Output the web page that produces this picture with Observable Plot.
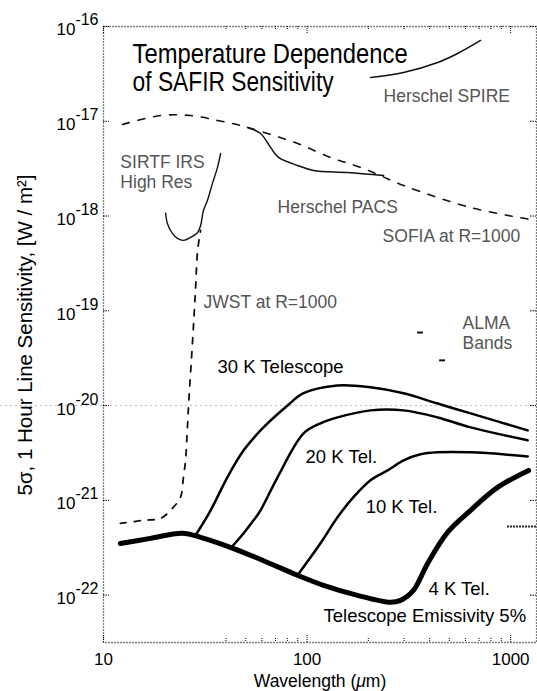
<!DOCTYPE html>
<html><head><meta charset="utf-8">
<script src="https://cdn.jsdelivr.net/npm/d3@7"></script>
<script src="https://cdn.jsdelivr.net/npm/@observablehq/plot@0.6"></script>
<style>body{margin:0;background:#fff;} svg{display:block}</style>
</head><body><div id="chart"></div>
<script>
// wavelength (µm), 5-sigma 1-hour line sensitivity (W/m^2)
const tel4K = [[12.1,3.5e-22],[17.0,3.97e-22],[24.4,4.5e-22],[30.0,4.07e-22],[43.6,3.1e-22],[60.4,2.33e-22],[89.8,1.62e-22],[120.5,1.27e-22],[177,9.95e-23],[257,8.4e-23],[288,8.8e-23],[333,1.12e-22],[391,2.16e-22],[490,4.6e-22],[636,7.85e-22],[863,1.37e-21],[1225,2.07e-21]];
const tel10K = [[89.8,1.62e-22],[116.4,3.52e-22],[141.1,6.62e-22],[169,1.08e-21],[205,1.63e-21],[248.6,2.07e-21],[298,2.64e-21],[361,3.06e-21],[438,3.21e-21],[636,3.21e-21],[1213,2.91e-21]];
const tel20K = [[42.1,3.12e-22],[48.8,4.5e-22],[54.6,6.15e-22],[59.1,7.85e-22],[71.6,1.75e-21],[96.1,5.09e-21],[116.4,6.5e-21],[141.1,7.5e-21],[205,8.9e-21],[298,8.9e-21],[438,7.5e-21],[636,5.89e-21],[1213,4.3e-21]];
const tel30K = [[28.3,4.27e-22],[33.6,7.85e-22],[40.6,1.75e-21],[48.8,3.37e-21],[59.1,5.47e-21],[80.2,1.0e-20],[96.1,1.35e-20],[141.1,1.63e-20],[205,1.56e-20],[298,1.35e-20],[438,1.05e-20],[636,8.27e-21],[1213,5.47e-21]];
const jwst = [[12.1,5.72e-22],[15.7,6.15e-22],[19.1,6.46e-22],[21.8,8.24e-22],[23.9,1.08e-21],[24.7,1.75e-21],[25.3,2.64e-21],[25.6,3.99e-21],[25.9,6.49e-21],[26.2,1.05e-20],[27.4,4.87e-20],[28.3,1.64e-19],[29.0,4.34e-19],[30.0,7.05e-19]];
const sirtf = [[20.2,1.07e-18],[20.6,8.36e-19],[21.8,6.55e-19],[23.1,5.8e-19],[24.7,5.53e-19],[26.8,5.95e-19],[29.0,6.71e-19],[30.0,7.96e-19],[31.0,1.15e-18],[32.4,1.46e-18],[34.3,2.21e-18],[36.3,3.26e-18],[37.6,4.57e-18]];
const sofia = [[12.4,9.25e-18],[19.1,1.15e-17],[26.8,1.15e-17],[36.3,1.02e-17],[47.1,9.03e-18],[63.9,7.43e-18],[89.8,5.83e-18],[130.4,4.15e-18],[189.5,3.18e-18],[298,2.1e-18],[636,1.23e-18],[1327,9.0e-19]];
const pacs = [[51.0,8.6e-18],[59.1,7.43e-18],[66.2,5.3e-18],[72.4,4.15e-18],[89.8,3.42e-18],[107.6,3.03e-18],[158,2.88e-18],[237.7,2.68e-18]];
const spire = [[205,2.9e-17],[298,3.27e-17],[438,4.17e-17],[549,5.19e-17],[712,7.12e-17]];
const almaMarks = [[349,373,5.9e-20],[448,479,3.0e-20]];
const almaBand = [[966,1340,5.3e-22]];

const titleLines = [
  {text: "Temperature Dependence", x: 13.9, y: 4.07e-17},
  {text: "of SAFIR Sensitivity", x: 13.9, y: 2.11e-17}
];
const instrumentLabels = [
  {text: "SIRTF IRS\nHigh Res", x: 12.1, y: 2.0e-18},
  {text: "Herschel SPIRE", x: 237.7, y: 1.58e-17},
  {text: "Herschel PACS", x: 71.6, y: 1.07e-18},
  {text: "SOFIA at R=1000", x: 235, y: 5.27e-19},
  {text: "JWST at R=1000", x: 31.0, y: 1.06e-19},
  {text: "ALMA\nBands", x: 581, y: 4.0e-20}
];
const curveLabels = [
  {text: "30 K Telescope", x: 36.3, y: 2.19e-20},
  {text: "20 K Tel.", x: 98.3, y: 2.45e-21},
  {text: "10 K Tel.", x: 194, y: 7.3e-22},
  {text: "4 K Tel.", x: 395, y: 9.95e-23},
  {text: "Telescope Emissivity 5%", x: 120.5, y: 5.16e-23}
];
const yTicks = [1e-22,1e-21,1e-20,1e-19,1e-18,1e-17,1e-16];
const xTicks = [10,100,1000];
const xMinor = [40,50,60,70,80,90,200,300,400,500,600,700,800,900];
const xLabel = "Wavelength (μm)";
const yLabel = "5σ, 1 Hour Line Sensitivity, [W / m²]";

const W = 537, H = 691, mL = 103, mR = 1, mT = 26, mB = 49;
const innerW = W - mL - mR, innerH = H - mT - mB;
const font = "'Liberation Sans', Arial, Helvetica, sans-serif";
const X = d => d[0], Y = d => d[1];

const chart = Plot.plot({
  width: W, height: H,
  marginLeft: mL, marginRight: mR, marginTop: mT, marginBottom: mB,
  style: {fontFamily: font, background: "#fff", color: "#000"},
  x: {type: "log", domain: [10, 1340], label: null},
  y: {type: "log", domain: [Math.pow(10, -22.5), 1e-16], label: null},
  marks: [
    Plot.ruleY([1e-20], {stroke: "#aaa", strokeWidth: 0.8, strokeDasharray: "2,3", insetLeft: -mL}),
    Plot.frame({stroke: "#000", strokeWidth: 1.3, strokeDasharray: "1,2"}),
    Plot.tickY(yTicks, {y: d => d, insetRight: innerW - 6, stroke: "#000", strokeDasharray: "1.5,1"}),
    Plot.tickY(yTicks, {y: d => d, insetLeft: innerW - 6, stroke: "#000", strokeDasharray: "1.5,1"}),
    Plot.tickX(xMinor, {x: d => d, insetTop: innerH - 4, stroke: "#000", strokeDasharray: "1,1"}),
    Plot.tickX(xTicks, {x: d => d, insetTop: innerH - 7, stroke: "#000", strokeDasharray: "1,1"}),
    Plot.tickX(xMinor, {x: d => d, insetBottom: innerH - 4, stroke: "#000", strokeDasharray: "1,1"}),
    Plot.tickX(xTicks, {x: d => d, insetBottom: innerH - 7, stroke: "#000", strokeDasharray: "1,1"}),
    Plot.axisY({ticks: yTicks, tickSize: 0, tickPadding: 5, fontSize: 17, dy: 3.5, label: null,
      tickFormat: d => "10^" + Math.round(Math.log10(d))}),
    Plot.axisX({ticks: xTicks, tickSize: 0, tickPadding: 10, fontSize: 17, label: null,
      tickFormat: d => String(d)}),
    // curves
    Plot.line(sofia, {x: X, y: Y, stroke: "#111", strokeWidth: 1.6, strokeDasharray: "7,9", curve: "catmull-rom"}),
    Plot.line(pacs, {x: X, y: Y, stroke: "#111", strokeWidth: 1.5, curve: "catmull-rom"}),
    Plot.line(spire, {x: X, y: Y, stroke: "#111", strokeWidth: 1.5, curve: "catmull-rom"}),
    Plot.line(sirtf, {x: X, y: Y, stroke: "#111", strokeWidth: 1.4, curve: "catmull-rom"}),
    Plot.line(jwst, {x: X, y: Y, stroke: "#111", strokeWidth: 1.8, strokeDasharray: "6,8", curve: "catmull-rom"}),
    Plot.line(tel30K, {x: X, y: Y, stroke: "#000", strokeWidth: 2.5, curve: "catmull-rom"}),
    Plot.line(tel20K, {x: X, y: Y, stroke: "#000", strokeWidth: 2.5, curve: "catmull-rom"}),
    Plot.line(tel10K, {x: X, y: Y, stroke: "#000", strokeWidth: 2.5, curve: "catmull-rom"}),
    Plot.line(tel4K, {x: X, y: Y, stroke: "#000", strokeWidth: 5, curve: "catmull-rom"}),
    Plot.ruleY(almaMarks, {y: d => d[2], x1: d => d[0], x2: d => d[1], stroke: "#111", strokeWidth: 2}),
    Plot.ruleY(almaBand, {y: d => d[2], x1: d => d[0], x2: d => d[1], stroke: "#222", strokeWidth: 2, strokeDasharray: "2,1"}),
    // labels
    Plot.text(titleLines, {x: "x", y: "y", text: "text", textAnchor: "start", lineAnchor: "bottom", fontSize: 27, fill: "#000"}),
    Plot.text(instrumentLabels, {x: "x", y: "y", text: "text", textAnchor: "start", lineAnchor: "bottom", fontSize: 17.5, lineHeight: 20/17.5, fill: "#555"}),
    Plot.text(curveLabels, {x: "x", y: "y", text: "text", textAnchor: "start", lineAnchor: "bottom", fontSize: 18.5, fill: "#000"}),
    Plot.text([xLabel], {frameAnchor: "bottom", text: d => d, dy: 44, lineAnchor: "bottom", fontSize: 17.5, fill: "#000"}),
    Plot.text([yLabel], {frameAnchor: "left", text: d => d, rotate: -90, lineAnchor: "middle", fontSize: 20.5, fill: "#000"})
  ]
});
document.getElementById("chart").appendChild(chart);

const svg = chart.tagName.toLowerCase() === "svg" ? chart : chart.querySelector("svg");
svg.querySelectorAll('g[aria-label="y-axis tick label"] text').forEach(t => {
  const parts = t.textContent.split("^");
  if (parts.length === 2) {
    t.innerHTML = `<tspan>${parts[0]}</tspan><tspan dy="-10" font-size="16">${parts[1]}</tspan>`;
  }
});
svg.querySelectorAll("text").forEach(t => {
  const s = t.textContent;
  if (s === titleLines[0].text) { t.setAttribute("textLength", 275); t.setAttribute("lengthAdjust", "spacingAndGlyphs"); }
  if (s === titleLines[1].text) { t.setAttribute("textLength", 201); t.setAttribute("lengthAdjust", "spacingAndGlyphs"); }
  if (s === xLabel) { t.innerHTML = 'Wavelength (<tspan font-style="italic">μ</tspan>m)'; }
  if (s === yLabel) {
    const g = t.parentNode;
    if (g && g.getAttribute("transform")) g.removeAttribute("transform");
    t.setAttribute("transform", "translate(25,335) rotate(-90)");
    t.setAttribute("text-anchor", "middle");
  }
});
</script>
</body></html>
